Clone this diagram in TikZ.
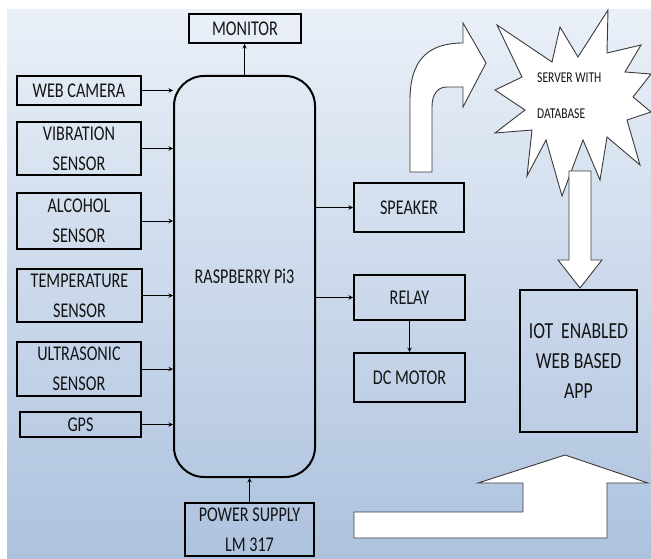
\documentclass[tikz,border=0pt]{standalone}
\usepackage{fontspec}
\setmainfont{Carlito}[FakeStretch=0.77]
\usepackage{xcolor}
\usepackage{tikz}
\definecolor{bgtop}{HTML}{EAF0F8}
\definecolor{bgbot}{HTML}{ADC2DE}
\definecolor{outline}{HTML}{3A3A3A}
\tikzstyle{block} = [rectangle, line width=2pt, draw=black, text=black!92, align=center, inner sep=0pt, font=\fontsize{21}{30}\selectfont]
\tikzstyle{arrow} = [line width=1pt,->,>=stealth]
\tikzstyle{fatarrow} = [draw=outline, line width=0.9pt, fill=white, line join=miter]

\begin{document}
\begin{tikzpicture}[x=1pt, y=-1pt]
    \useasboundingbox (0,0) rectangle (651,559);
    \fill [top color=bgtop, bottom color=bgbot] (7,10) rectangle (651,559);
    \node (Pi) [block, rounded corners=30pt, minimum width=141pt, minimum height=401pt] at (244.5,276.5) {RASPBERRY Pi3};
    \node (Monitor) [block, minimum width=112pt, minimum height=29pt] at (245,28.5) {MONITOR};
    \node (WebCam) [block, minimum width=124pt, minimum height=29pt] at (79,90.5) {WEB CAMERA};
    \node (Vibration) [block, minimum width=124pt, minimum height=53pt] at (79,148.5) {VIBRATION\\SENSOR};
    \node (Alcohol) [block, minimum width=124pt, minimum height=56pt] at (79,221) {ALCOHOL\\SENSOR};
    \node (Temperature) [block, minimum width=125pt, minimum height=53pt] at (79.5,295.5) {TEMPERATURE\\SENSOR};
    \node (Ultrasonic) [block, minimum width=124pt, minimum height=54pt] at (79,369) {ULTRASONIC\\SENSOR};
    \node (GPS) [block, minimum width=121pt, minimum height=25pt] at (80.5,424.5) {GPS};
    \node (Power) [block, minimum width=129pt, minimum height=53pt] at (249.5,529.5) {POWER SUPPLY\\LM 317};
    \node (Speaker) [block, minimum width=110pt, minimum height=49pt] at (409,207.5) {SPEAKER};
    \node (Relay) [block, minimum width=111pt, minimum height=45pt] at (409.5,297.5) {RELAY};
    \node (DCMotor) [block, minimum width=111pt, minimum height=49pt] at (409.5,377.5) {DC MOTOR};
    \node (IoT) [block, minimum width=117pt, minimum height=142pt, font=\fontsize{23}{30}\selectfont] at (578.5,361) {IOT\ \ ENABLED\\WEB BASED\\APP};
    \draw [arrow] (WebCam.east) -- (WebCam.east -| Pi.west);
    \draw [arrow] (Vibration.east) -- (Vibration.east -| Pi.west);
    \draw [arrow] (Alcohol.east) -- (Alcohol.east -| Pi.west);
    \draw [arrow] (Temperature.east) -- (Temperature.east -| Pi.west);
    \draw [arrow] (Ultrasonic.east) -- (Ultrasonic.east -| Pi.west);
    \draw [arrow] (GPS.east) -- (GPS.east -| Pi.west);
    \draw [arrow] (Pi.north) -- (Pi.north |- Monitor.south);
    \draw [arrow] (Power.north) -- (Power.north |- Pi.south);
    \draw [arrow] (Speaker.west -| Pi.east) -- (Speaker.west);
    \draw [arrow] (Relay.west -| Pi.east) -- (Relay.west);
    \draw [arrow] (Relay.south) -- (DCMotor.north);
    % block arrows and cloud
    \draw [fatarrow] (410,172) -- (410,100) .. controls (410,60) and (428,43) .. (463,43) -- (463,23) -- (486,63) -- (463,107) -- (463,87) -- (447,87) .. controls (437,87) and (432,95) .. (432,107) -- (432,172) -- cycle;
    \draw [fatarrow] (497,25) -- (552,62) -- (560,27) -- (578,57) -- (608,10) -- (607,53) -- (641,45) -- (625,72) -- (651,74) -- (633,97) -- (651,112) -- (627,120) -- (640,165) -- (607,137) -- (600,180) -- (583,140) -- (562,196) -- (546,140) -- (527,176) -- (532,130) -- (495,133) -- (525,110) -- (495,90) -- (522,77) -- cycle;
    \node (Server) [anchor=west, align=left, text=black!92, inner sep=0pt, font=\fontsize{15}{36}\selectfont] at (537,96) {SERVER WITH\\DATABASE};
    \draw [fatarrow] (569,171) -- (591,171) -- (591,260) -- (602,260) -- (580,288) -- (558,260) -- (569,260) -- cycle;
    \draw [fatarrow] (354,512) -- (523,512) -- (523,483) -- (478,483) -- (565,455) -- (648,483) -- (607,483) -- (607,538) -- (354,538) -- cycle;
\end{tikzpicture}
\end{document}
